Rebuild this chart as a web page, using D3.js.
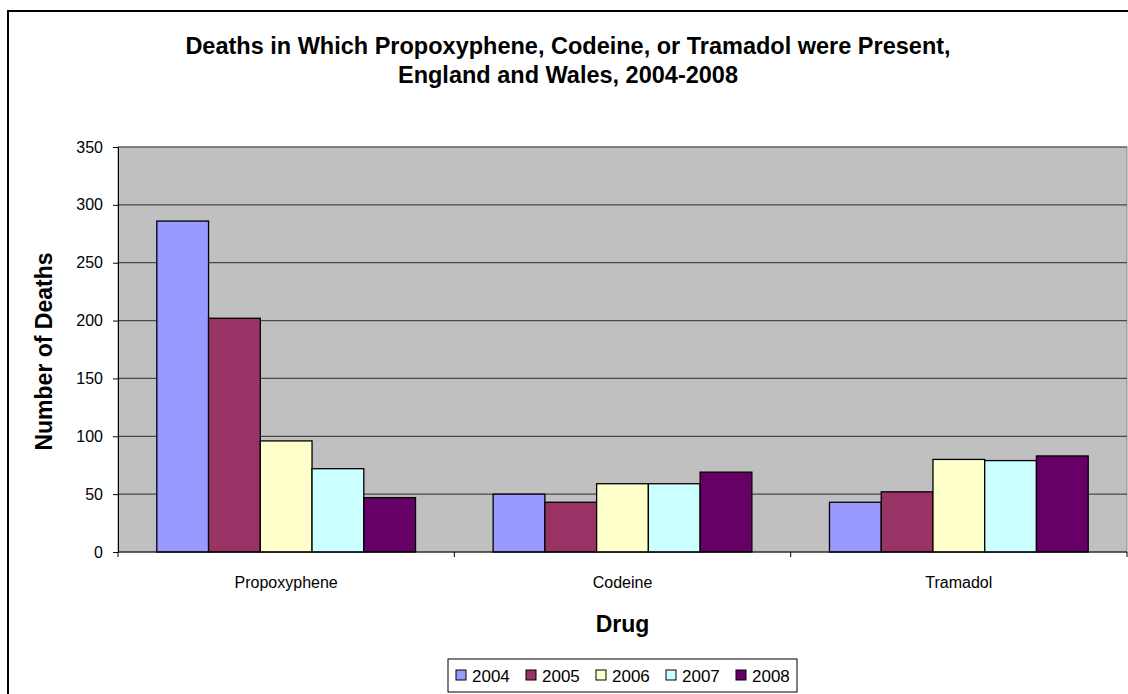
<!DOCTYPE html>
<html><head><meta charset="utf-8">
<script src="https://cdn.jsdelivr.net/npm/d3@7"></script>
<style>body{margin:0;background:#fff}svg{display:block;font-family:"Liberation Sans",Arial,sans-serif}</style>
</head><body><svg id="c" width="1128" height="694"></svg>
<script>
const categories = ["Propoxyphene", "Codeine", "Tramadol"];
const seriesNames = ["2004", "2005", "2006", "2007", "2008"];
const values2004 = [286, 50, 43];
const values2005 = [202, 43, 52];
const values2006 = [96, 59, 80];
const values2007 = [72, 59, 79];
const values2008 = [47, 69, 83];
const seriesColors = ["#9999FF", "#993366", "#FFFFCC", "#CCFFFF", "#660066"];
const yTicks = [0, 50, 100, 150, 200, 250, 300, 350];
const titleLines = ["Deaths in Which Propoxyphene, Codeine, or Tramadol were Present,", "England and Wales, 2004-2008"];

const seriesValues = [values2004, values2005, values2006, values2007, values2008];
const svg = d3.select("#c");
const L = 118, R = 1127, T = 147, B = 552;
const FONT = "Liberation Sans, Arial, sans-serif";

// outer border
svg.append("rect").attr("x", 8).attr("y", 11).attr("width", 1130).attr("height", 700)
  .attr("fill", "#fff").attr("stroke", "#000").attr("stroke-width", 2);

const x0 = d3.scaleBand().domain(categories).range([L, R]).paddingInner(0).paddingOuter(0);
const barW = x0.bandwidth() / 6.5;
const x1 = d3.scaleBand().domain(seriesNames).range([0.75 * barW, 5.75 * barW]).padding(0);
const y = d3.scaleLinear().domain([0, 350]).range([B, T]);

// plot area
svg.append("rect").attr("x", L).attr("y", T).attr("width", R - L).attr("height", B - T)
  .attr("fill", "#C0C0C0").attr("stroke", "#8a8a8a").attr("stroke-width", 1);

// gridlines
svg.append("g").selectAll("line").data(yTicks.filter(d => d > 0)).join("line")
  .attr("x1", L).attr("x2", R).attr("y1", d => y(d)).attr("y2", d => y(d))
  .attr("stroke", "#4a4a4a").attr("stroke-width", 1.2);

// bars
const g = svg.append("g");
categories.forEach((c, ci) => {
  seriesNames.forEach((s, si) => {
    const v = seriesValues[si][ci];
    g.append("rect")
      .attr("x", x0(c) + x1(s)).attr("width", x1.bandwidth())
      .attr("y", y(v)).attr("height", y(0) - y(v))
      .attr("fill", seriesColors[si]).attr("stroke", "#000").attr("stroke-width", 1.3);
  });
});

// y axis
const yAxis = d3.axisLeft(y).tickValues(yTicks).tickSize(5).tickPadding(10);
const ya = svg.append("g").attr("transform", `translate(${L},0)`).call(yAxis);
ya.select(".domain").attr("stroke", "#000");
ya.selectAll(".tick line").attr("stroke", "#000");
ya.selectAll("text").attr("font-size", 16).attr("fill", "#000").attr("font-family", FONT);

// x axis
svg.append("line").attr("x1", L).attr("x2", R).attr("y1", B).attr("y2", B).attr("stroke", "#000");
const bounds = [L].concat(categories.map(c => x0(c) + x0.bandwidth()));
svg.append("g").selectAll("line").data(bounds).join("line")
  .attr("x1", d => d).attr("x2", d => d).attr("y1", B).attr("y2", B + 5).attr("stroke", "#000");
svg.append("g").selectAll("text").data(categories).join("text")
  .attr("x", d => x0(d) + x0.bandwidth() / 2).attr("y", 588)
  .attr("text-anchor", "middle").attr("font-size", 16).text(d => d);

// axis titles
svg.append("text").attr("x", (L + R) / 2).attr("y", 632)
  .attr("text-anchor", "middle").attr("font-size", 23).attr("font-weight", "bold").text("Drug");
svg.append("text").attr("transform", `translate(52,${(T + B) / 2 + 2}) rotate(-90)`)
  .attr("text-anchor", "middle").attr("font-size", 23).attr("font-weight", "bold").text("Number of Deaths");

// title
svg.append("g").selectAll("text").data(titleLines).join("text")
  .attr("x", 568).attr("y", (d, i) => 54 + i * 29)
  .attr("text-anchor", "middle").attr("font-size", 23.5).attr("font-weight", "bold").text(d => d);

// legend
const lg = svg.append("g");
lg.append("rect").attr("x", 448).attr("y", 659).attr("width", 349).attr("height", 33)
  .attr("fill", "#fff").attr("stroke", "#000").attr("stroke-width", 1);
const legX = d3.scalePoint().domain(seriesNames).range([456, 736]);
seriesNames.forEach((s, i) => {
  lg.append("rect").attr("x", legX(s)).attr("y", 670).attr("width", 10).attr("height", 10)
    .attr("fill", seriesColors[i]).attr("stroke", "#000").attr("stroke-width", 1);
  lg.append("text").attr("x", legX(s) + 16).attr("y", 682).attr("font-size", 17).text(s);
});
</script></body></html>
